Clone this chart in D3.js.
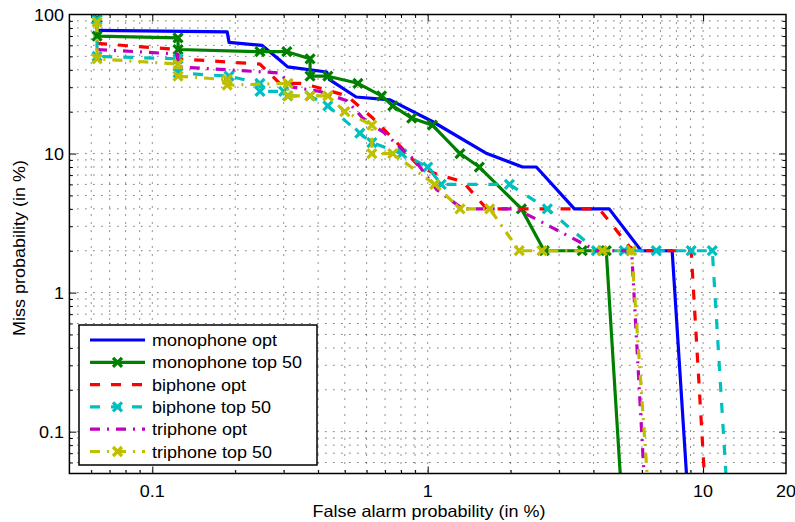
<!DOCTYPE html>
<html><head><meta charset="utf-8">
<script src="https://cdn.jsdelivr.net/npm/d3@7"></script>
<style>
body{margin:0;background:#fff}
text{font-family:"Liberation Sans",Arial,Helvetica,sans-serif;fill:#000}
</style></head>
<body><svg id="c" width="795" height="522"></svg>
<script>
// ---- data ----
const xTicks = [0.1, 1, 10, 20];
const xTickLabels = ["0.1", "1", "10", "20"];
const yTicks = [0.1, 1, 10, 100];
const yTickLabels = ["0.1", "1", "10", "100"];
const seriesNames = ["monophone opt", "monophone top 50", "biphone opt", "biphone top 50", "triphone opt", "triphone top 50"];

const monoOptX = [0.063, 0.187, 0.19, 0.25, 0.29, 0.31, 0.43, 0.44, 0.55, 0.73, 1.04, 1.64, 2.21, 2.48, 3.41, 4.56, 5.96, 7.72, 8.7];
const monoOptY = [77, 75, 63, 60, 47, 42, 38.6, 34, 25.5, 24.3, 17, 10, 8, 8, 4, 4, 2, 2, 0.05];

const monoTopX = [0.063, 0.063, 0.124, 0.124, 0.246, 0.308, 0.374, 0.374, 0.434, 0.558, 0.68, 0.747, 0.875, 1.04, 1.31, 1.54, 2.19, 2.65, 3.64, 4.45, 5.0];
const monoTopY = [94, 70, 68, 56, 54, 54, 48, 36, 36, 32, 26, 22, 18, 16, 10, 8, 4, 2, 2, 2, 0.05];

const biOptX = [0.063, 0.123, 0.125, 0.246, 0.29, 0.344, 0.396, 0.509, 0.632, 0.772, 0.935, 1.1, 1.34, 1.54, 1.64, 4.2, 5.4, 5.7, 9.05, 10.1];
const biOptY = [62, 56, 48, 44, 32, 32, 30, 26, 18, 12, 8, 7, 6.3, 4.6, 4, 4, 2.14, 2, 2, 0.05];

const biTopX = [0.063, 0.063, 0.124, 0.124, 0.19, 0.246, 0.246, 0.30, 0.31, 0.374, 0.434, 0.567, 0.627, 0.805, 1.0, 1.12, 1.98, 2.72, 4.1, 5.17, 6.76, 9.05, 10.8, 12.1];
const biTopY = [92, 50, 48, 38, 36, 32, 28, 28, 26, 26, 22, 14, 12, 10, 8, 6, 6, 4, 2, 2, 2, 2, 2, 0.05];

const triOptX = [0.063, 0.123, 0.125, 0.29, 0.324, 0.406, 0.509, 0.581, 0.699, 0.812, 0.897, 1.078, 1.34, 2.1, 4.1, 5.5, 6.1];
const triOptY = [56, 52, 42, 38, 30, 28, 24, 18, 14, 10.6, 9, 5.5, 4, 4, 2, 2, 0.05];

const triTopX = [0.063, 0.063, 0.124, 0.124, 0.187, 0.187, 0.311, 0.311, 0.374, 0.434, 0.50, 0.627, 0.627, 0.747, 1.06, 1.31, 1.68, 2.15, 2.6, 4.3, 5.5, 6.26];
const triTopY = [88, 48, 44, 36, 34, 31, 32, 26, 26, 26, 20, 16, 10, 10, 6, 4, 4, 2, 2, 2, 2, 0.05];

const seriesX = [monoOptX, monoTopX, biOptX, biTopX, triOptX, triTopX];
const seriesY = [monoOptY, monoTopY, biOptY, biTopY, triOptY, triTopY];
const seriesColor = ["#0000ff", "#008000", "#ff0000", "#00bfbf", "#bf00bf", "#bfbf00"];
const seriesDash = [null, null, "10,11", "10,11", "10,7,2,7", "10,7,2,7"];
const seriesMarker = [false, true, false, true, false, true];

// ---- layout ----
const L = 69.4, R = 786, T = 14.5, B = 473.5;
const svg = d3.select("#c");
const x = d3.scaleLog().domain([0.05, 20]).range([L, R]);
const y = d3.scaleLog().domain([0.05, 100]).range([B, T]);

function minors(lo, hi) {
  const out = [];
  for (let e = -2; e <= 2; e++) for (let m = 1; m <= 9; m++) {
    const v = +(m * Math.pow(10, e)).toPrecision(3);
    if (v > lo * 1.0001 && v < hi * 0.9999) out.push(v);
  }
  return out;
}
const xGrid = minors(0.05, 20);
const yGrid = minors(0.05, 100);
const xMajor = new Set([0.1, 1, 10]);
const yMajor = new Set([0.1, 1, 10]);

// grid
const g = svg.append("g");
g.selectAll(".gx").data(xGrid).enter().append("line")
  .attr("x1", d => x(d)).attr("x2", d => x(d)).attr("y1", T).attr("y2", B)
  .attr("stroke", "#111").attr("stroke-width", 0.9).attr("stroke-dasharray", "1,7");
g.selectAll(".gy").data(yGrid).enter().append("line")
  .attr("y1", d => y(d)).attr("y2", d => y(d)).attr("x1", L).attr("x2", R)
  .attr("stroke", "#111").attr("stroke-width", 0.9).attr("stroke-dasharray", "1,7");

// axes with inward ticks (all four sides)
function tickLen(set, d) { return set.has(d) ? 7 : 3.5; }
const axB = svg.append("g").attr("transform", `translate(0,${B})`)
  .call(d3.axisBottom(x).tickValues(xGrid).tickSizeInner(0).tickSizeOuter(0).tickFormat(""));
const axT = svg.append("g").attr("transform", `translate(0,${T})`)
  .call(d3.axisTop(x).tickValues(xGrid).tickSizeInner(0).tickSizeOuter(0).tickFormat(""));
const axL = svg.append("g").attr("transform", `translate(${L},0)`)
  .call(d3.axisLeft(y).tickValues(yGrid).tickSizeInner(0).tickSizeOuter(0).tickFormat(""));
const axR = svg.append("g").attr("transform", `translate(${R},0)`)
  .call(d3.axisRight(y).tickValues(yGrid).tickSizeInner(0).tickSizeOuter(0).tickFormat(""));
[axB, axT, axL, axR].forEach(a => { a.select(".domain").remove(); });
axB.selectAll(".tick line").attr("y2", d => -tickLen(xMajor, d)).attr("stroke", "#000");
axT.selectAll(".tick line").attr("y2", d => tickLen(xMajor, d)).attr("stroke", "#000");
axL.selectAll(".tick line").attr("x2", d => tickLen(yMajor, d)).attr("stroke", "#000");
axR.selectAll(".tick line").attr("x2", d => -tickLen(yMajor, d)).attr("stroke", "#000");

// clip
svg.append("clipPath").attr("id", "clip").append("rect")
  .attr("x", L).attr("y", T).attr("width", R - L).attr("height", B - T);

// series
const line = d3.line().x(d => x(d[0])).y(d => y(d[1]));
const plot = svg.append("g").attr("clip-path", "url(#clip)");
const markerPath = "M-4.5,-4.5L4.5,4.5M-4.5,4.5L4.5,-4.5";
seriesX.forEach((xs, i) => {
  const pts = xs.map((v, j) => [v, seriesY[i][j]]);
  plot.append("path").datum(pts).attr("d", line)
    .attr("fill", "none").attr("stroke", seriesColor[i]).attr("stroke-width", 3.2)
    .attr("stroke-linejoin", "round")
    .attr("stroke-dasharray", seriesDash[i]);
  if (seriesMarker[i]) {
    plot.selectAll(null).data(pts.filter(p => p[1] > 0.05)).enter().append("path")
      .attr("d", markerPath)
      .attr("transform", d => `translate(${x(d[0])},${y(d[1])})`)
      .attr("fill", "none").attr("stroke", seriesColor[i]).attr("stroke-width", 3.2);
  }
});

// frame
svg.append("rect").attr("x", L).attr("y", T).attr("width", R - L).attr("height", B - T)
  .attr("fill", "none").attr("stroke", "#000").attr("stroke-width", 1.5);

// tick labels
const texts = [];
xTicks.forEach((v, i) => {
  texts.push(svg.append("text").attr("x", x(v)).attr("y", 497).attr("text-anchor", "middle")
    .attr("font-size", 16.5).text(xTickLabels[i]));
});
yTicks.forEach((v, i) => {
  texts.push(svg.append("text").attr("x", 64).attr("y", y(v) + 6).attr("text-anchor", "end")
    .attr("font-size", 16.5).text(yTickLabels[i]));
});
// axis labels
texts.push(svg.append("text").attr("x", 429).attr("y", 517).attr("text-anchor", "middle")
  .attr("font-size", 16.5).text("False alarm probability (in %)"));
texts.push(svg.append("text").attr("transform", "translate(25,248) rotate(-90)")
  .attr("text-anchor", "middle").attr("font-size", 16.5).text("Miss probability (in %)"));

// legend
const lg = svg.append("g");
lg.append("rect").attr("x", 79).attr("y", 325).attr("width", 238).attr("height", 140)
  .attr("fill", "#fff").attr("stroke", "#000").attr("stroke-width", 1.5);
seriesNames.forEach((name, i) => {
  const yy = 340 + i * 22.3;
  lg.append("line").attr("x1", 90).attr("x2", 145).attr("y1", yy).attr("y2", yy)
    .attr("stroke", seriesColor[i]).attr("stroke-width", 3.2).attr("stroke-dasharray", seriesDash[i]);
  if (seriesMarker[i]) {
    lg.append("path").attr("d", markerPath).attr("transform", `translate(117.5,${yy})`)
      .attr("fill", "none").attr("stroke", seriesColor[i]).attr("stroke-width", 3.2);
  }
  texts.push(lg.append("text").attr("x", 152).attr("y", yy + 6).attr("font-size", 16.5).text(name));
});

// the reference's lettering is slightly wider than the font's natural width
texts.forEach(t => {
  const n = t.node();
  const len = n.getComputedTextLength();
  t.attr("textLength", len * 1.09).attr("lengthAdjust", "spacingAndGlyphs");
});
</script></body></html>
